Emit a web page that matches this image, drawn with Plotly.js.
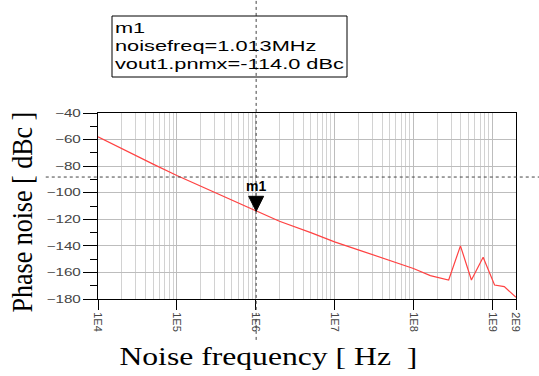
<!DOCTYPE html>
<html><head><meta charset="utf-8">
<script src="https://cdn.plot.ly/plotly-3.0.1.min.js"></script>
<style>html,body{margin:0;padding:0;background:#fff}#plot{width:539px;height:376px}</style>
</head><body><div id="plot"></div>
<script>
const noiseFreq = [1e4, 2e4, 5e4, 1e5, 2e5, 5e5, 1e6, 2e6, 5e6, 1e7, 2e7, 5e7, 1e8, 1.64e8, 2.8e8, 3.95e8, 5.44e8, 7.66e8, 1.07e9, 1.42e9, 2e9];
const phaseNoise = [-58, -67, -78.5, -87, -95, -105.5, -114, -121.5, -130, -137, -143, -151, -157, -162.4, -165.7, -140, -165.7, -148.6, -169.5, -170.7, -178.7];
const xTickVals = [1e4, 1e5, 1e6, 1e7, 1e8, 1e9, 2e9];
const xTickText = ['1E4', '1E5', '1E6', '1E7', '1E8', '1E9', '2E9'];
const markerFreq = 1.013e6;
const markerVal = -114.0;
const markerName = 'm1';
const markerLines = ['m1', 'noisefreq=1.013MHz', 'vout1.pnmx=-114.0 dBc'];
const crossY = -88.2;

const minorVals = [];
for (let k = 4; k <= 8; k++) for (let d = 2; d <= 9; d++) minorVals.push(d * Math.pow(10, k));

const trace = {
  x: noiseFreq, y: phaseNoise, type: 'scatter', mode: 'lines',
  line: {color: '#ff4242', width: 1.2}, hoverinfo: 'skip'
};

const layout = {
  width: 539, height: 376,
  margin: {l: 98, r: 23, t: 113, b: 77},
  paper_bgcolor: '#fff', plot_bgcolor: '#fff',
  showlegend: false,
  font: {family: 'Liberation Sans, Arial, sans-serif', color: '#333', size: 12},
  xaxis: {
    type: 'log', range: [4, Math.log10(2e9)],
    tickmode: 'array', tickvals: xTickVals, ticktext: xTickText,
    tickangle: 90, ticks: 'outside', ticklen: 10, tickcolor: '#000',
    tickfont: {size: 11, color: '#444'},
    showgrid: true, gridcolor: '#bdbdbd', gridwidth: 1,
    minor: {tickmode: 'array', tickvals: minorVals, showgrid: true, gridcolor: '#d2d2d2', gridwidth: 1, ticks: ''},
    showline: true, linecolor: '#000', linewidth: 1, mirror: true, zeroline: false
  },
  yaxis: {
    range: [-180, -40], dtick: 20, tick0: -40,
    ticks: 'outside', ticklen: 14, tickcolor: '#000',
    tickfont: {size: 10.5, color: '#444'},
    showgrid: true, gridcolor: '#bdbdbd', gridwidth: 1,
    minor: {dtick: 10, ticks: 'outside', ticklen: 7, tickcolor: '#000', showgrid: false},
    showline: true, linecolor: '#000', linewidth: 1, mirror: true, zeroline: false
  },
  shapes: [
    {type: 'line', xref: 'x', yref: 'paper', x0: markerFreq, x1: markerFreq, y0: -0.22, y1: 1.61,
     line: {color: '#444', width: 1, dash: 'dot'}, layer: 'above'},
    {type: 'line', xref: 'paper', yref: 'y', x0: -0.125, x1: 1.06, y0: crossY, y1: crossY,
     line: {color: '#444', width: 1, dash: 'dot'}, layer: 'above'},
    {type: 'rect', xref: 'paper', yref: 'paper', x0: 0.0335, x1: 0.5957, y0: 1.1935, y1: 1.5215,
     line: {color: '#000', width: 1}, fillcolor: 'rgba(0,0,0,0)', layer: 'above'},
    {type: 'path', xref: 'x', yref: 'y', xsizemode: 'pixel', ysizemode: 'pixel',
     xanchor: markerFreq, yanchor: markerVal, path: 'M -7.5,15 L 7.5,15 L 0,0 Z',
     fillcolor: '#000', line: {color: '#000', width: 1}, layer: 'above'}
  ],
  annotations: [
    {xref: 'x', yref: 'y', x: Math.log10(markerFreq), y: markerVal, text: '<b>' + markerName + '</b>', showarrow: false,
     xanchor: 'center', yanchor: 'bottom', yshift: 15, font: {size: 14, color: '#000', family: 'Liberation Sans, Arial'}},
    {xref: 'paper', yref: 'paper', x: 0.038, y: 1.505, xanchor: 'left', yanchor: 'top', align: 'left',
     text: markerLines.join('<br>'), showarrow: false, borderpad: 0,
     bgcolor: 'rgba(0,0,0,0)', font: {size: 14, color: '#000', family: 'Liberation Sans, Arial'}},
    {xref: 'paper', yref: 'paper', x: -0.182, y: 0.47, text: 'Phase noise [ dBc ]', showarrow: false, textangle: -90,
     xanchor: 'center', yanchor: 'middle', font: {size: 26, color: '#000', family: 'Liberation Serif, Times New Roman, serif'}},
    {xref: 'paper', yref: 'paper', x: 0.409, y: -0.31, text: 'Noise frequency [ Hz&nbsp;&nbsp;]', showarrow: false,
     xanchor: 'center', yanchor: 'middle', font: {size: 26, color: '#000', family: 'Liberation Serif, Times New Roman, serif'}}
  ]
};

function stretch(el, s, anchor) {
  if (!el) return;
  const bb = el.getBBox();
  const ax = anchor === 'start' ? bb.x : anchor === 'end' ? bb.x + bb.width : bb.x + bb.width / 2;
  const prev = el.getAttribute('transform') || '';
  el.setAttribute('transform', prev + ' translate(' + ax + ',0) scale(' + s + ',1) translate(' + (-ax) + ',0)');
}
function stretchY(el, s) {
  if (!el) return;
  const bb = el.getBBox();
  const ay = bb.y + bb.height / 2;
  const prev = el.getAttribute('transform') || '';
  el.setAttribute('transform', prev + ' translate(0,' + ay + ') scale(1,' + s + ') translate(0,' + (-ay) + ')');
}
function stretchTo(el, target, anchor) {
  if (!el) return;
  const w = el.getBBox().width;
  if (w > 0) stretch(el, target / w, anchor);
}

Plotly.newPlot('plot', [trace], layout, {staticPlot: true, displayModeBar: false}).then(function (gd) {
  stretchTo(gd.querySelector('.annotation[data-index="1"] text.annotation-text'), 229, 'start');
  stretchY(gd.querySelector('.annotation[data-index="2"] text.annotation-text'), 1.15);
  stretchTo(gd.querySelector('.annotation[data-index="3"] text.annotation-text'), 298, 'middle');
  gd.querySelectorAll('g.ytick text').forEach(function (t) { stretch(t, 1.45, 'end'); });
});
</script></body></html>
